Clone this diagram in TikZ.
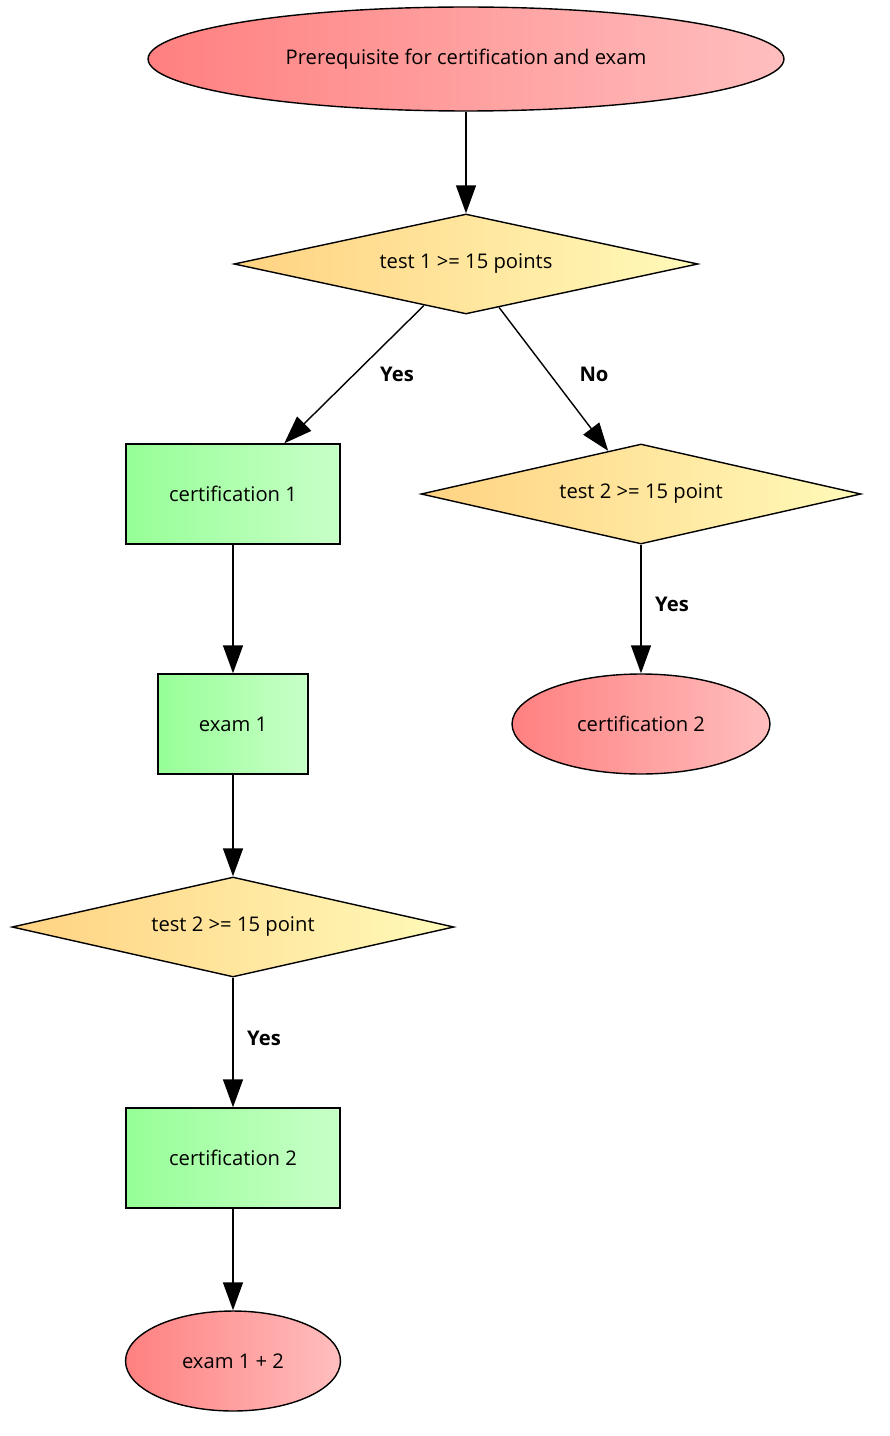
\documentclass[tikz,border=0pt]{standalone}
\usepackage{fontspec}
\setmainfont{Open Sans}
\usetikzlibrary{shapes.geometric,arrows.meta}

\definecolor{redL}{RGB}{255,128,128}
\definecolor{redR}{RGB}{255,190,190}
\definecolor{yelL}{RGB}{255,210,130}
\definecolor{yelR}{RGB}{255,250,185}
\definecolor{grnL}{RGB}{150,255,150}
\definecolor{grnR}{RGB}{200,255,200}

\begin{document}
\begin{tikzpicture}[x=0.02cm,y=-0.02cm,
    every node/.style={font=\fontsize{11.5}{14}\selectfont},
    terminal/.style={ellipse,draw,thick,left color=redL,right color=redR,inner sep=0pt},
    decision/.style={diamond,draw,thick,left color=yelL,right color=yelR,inner sep=0pt,
      minimum width=#1,minimum height=2cm,shape aspect=4.5},
    process/.style={rectangle,draw,thick,left color=grnL,right color=grnR,minimum height=2cm},
    flow/.style={thick,-{Triangle[length=0.56cm,width=0.4cm]}},
    yesno/.style={font=\fontsize{11.5}{14}\selectfont\bfseries}]
  \useasboundingbox (0,0) rectangle (889,1436);
  % nodes
  \node[terminal,minimum width=12.72cm,minimum height=2.08cm] (start) at (466,59) {Prerequisite for certification and exam};
  \node[decision=9.28cm] (test1) at (466,264) {test 1 >= 15 points};
  \node[process,minimum width=4.28cm] (cert1) at (233,494) {certification 1};
  \node[decision=8.8cm] (test2r) at (641,494) {test 2 >= 15 point};
  \node[process,minimum width=3cm] (exam1) at (233,724) {exam 1};
  \node[terminal,minimum width=5.16cm,minimum height=2cm] (cert2r) at (641,724) {certification 2};
  \node[decision=8.84cm] (test2l) at (233,927) {test 2 >= 15 point};
  \node[process,minimum width=4.28cm] (cert2l) at (233,1158) {certification 2};
  \node[terminal,minimum width=4.3cm,minimum height=2cm] (final) at (233,1361) {exam 1 + 2};
  % connectors
  \draw[flow] (start) -- (test1);
  \draw[flow] (test1) -- (cert1);
  \draw[flow] (test1) -- (test2r);
  \draw[flow] (test2r) -- (cert2r);
  \draw[flow] (cert1) -- (exam1);
  \draw[flow] (exam1) -- (test2l);
  \draw[flow] (test2l) -- (cert2l);
  \draw[flow] (cert2l) -- (final);
  % labels
  \node[yesno] (lyes1) at (397,374) {Yes};
  \node[yesno] (lno) at (594,374) {No};
  \node[yesno] (lyes2) at (672,604) {Yes};
  \node[yesno] (lyes3) at (264,1038) {Yes};
\end{tikzpicture}
\end{document}
